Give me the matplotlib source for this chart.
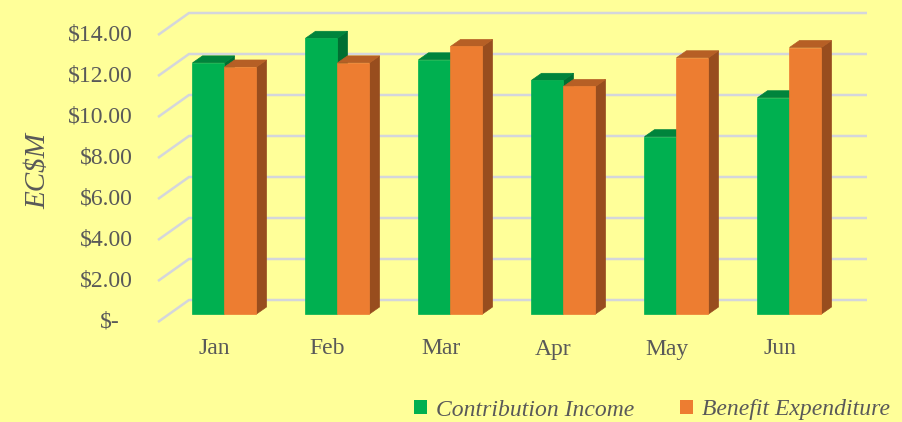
import matplotlib
matplotlib.use("Agg")
import matplotlib.pyplot as plt
from matplotlib.patches import Polygon, Patch

# Dados (EC$ milhões)
meses = ["Jan", "Feb", "Mar", "Apr", "May", "Jun"]
contribuicao = [12.25, 13.45, 12.4, 11.4, 8.65, 10.55]
beneficio = [12.05, 12.25, 13.05, 11.1, 12.5, 13.0]
yticks = [0, 2, 4, 6, 8, 10, 12, 14]
ytick_labels = [r"\$-", r"\$2.00", r"\$4.00", r"\$6.00", r"\$8.00",
                r"\$10.00", r"\$12.00", r"\$14.00"]

# Cores
fundo = "#FFFF99"
grade = "#D4D6DC"
texto = "#595959"
verde = ("#00B050", "#00843C", "#006F32")    # frente, topo, lado
laranja = ("#ED7D31", "#B65F25", "#984D1E")

W, H, DPI = 903, 422, 100
fig = plt.figure(figsize=(W / DPI, H / DPI), dpi=DPI, facecolor=fundo)

# plano frontal do gráfico em pixels
left_px, right_px, bottom_px, top_px = 158, 836, 322, 35
ax = fig.add_axes([left_px / W, 1 - bottom_px / H,
                   (right_px - left_px) / W, (bottom_px - top_px) / H])
ax.set_xlim(-0.5, 5.5)
ax.set_ylim(0, 14)
ax.axis("off")
ax.patch.set_alpha(0)

# pixels -> unidades de dados
sx = (right_px - left_px) / 6.0
sy = (bottom_px - top_px) / 14.0
def px(dx, dy):
    return dx / sx, dy / sy

wall_dx, wall_dy = px(31, 22)     # profundidade da parede do fundo
fr_dx, fr_dy = px(10, 8)          # frente das barras
dep_dx, dep_dy = px(10, 7)        # profundidade das barras
bw = 32 / sx                      # largura de cada barra

# Linhas de grade: parede lateral (diagonal) + parede do fundo
for v in yticks:
    ax.plot([-0.5, -0.5 + wall_dx, 5.5 + wall_dx], [v, v + wall_dy, v + wall_dy],
            color=grade, lw=1.8, zorder=1, clip_on=False, solid_capstyle="butt")

def barra3d(x0, h, cores):
    x0 = x0 + fr_dx
    y0 = fr_dy
    frente = Polygon([(x0, y0), (x0 + bw, y0), (x0 + bw, y0 + h), (x0, y0 + h)],
                     closed=True, fc=cores[0], ec=cores[0], lw=0.5, zorder=3)
    topo = Polygon([(x0, y0 + h), (x0 + bw, y0 + h),
                    (x0 + bw + dep_dx, y0 + h + dep_dy), (x0 + dep_dx, y0 + h + dep_dy)],
                   closed=True, fc=cores[1], ec=cores[1], lw=0.5, zorder=3)
    lado = Polygon([(x0 + bw, y0), (x0 + bw + dep_dx, y0 + dep_dy),
                    (x0 + bw + dep_dx, y0 + h + dep_dy), (x0 + bw, y0 + h)],
                   closed=True, fc=cores[2], ec=cores[2], lw=0.5, zorder=3)
    for p in (lado, topo, frente):
        p.set_clip_on(False)
        ax.add_patch(p)

for i in range(len(meses)):
    barra3d(i - bw, contribuicao[i], verde)
    barra3d(i, beneficio[i], laranja)

fonte = "Liberation Serif"

# Rótulos do eixo y
for v, lab in zip(yticks, ytick_labels):
    off = -38 if v == 0 else -25
    ax.annotate(lab, xy=(-0.5, v), xytext=(off, 0), textcoords="offset pixels",
                ha="right", va="center", fontsize=17, color=texto, family=fonte,
                annotation_clip=False)

# Rótulos do eixo x
for i, m in enumerate(meses):
    ax.annotate(m, xy=(i, 0), xytext=(0, -27), textcoords="offset pixels",
                ha="center", va="center", fontsize=17, color=texto, family=fonte,
                annotation_clip=False)

fig.text(38 / W, 1 - 171 / H, r"EC\$M", rotation=90, ha="center", va="center",
         fontsize=21, style="italic", color=texto, family=fonte)

handles = [Patch(fc=verde[0], ec="none"), Patch(fc=laranja[0], ec="none")]
fig.legend(handles, ["Contribution Income", "Benefit Expenditure"],
           loc="center right", bbox_to_anchor=(890 / W, 1 - 410 / H), ncol=2,
           frameon=False, borderpad=0, borderaxespad=0,
           handlelength=0.55, handleheight=0.55, handletextpad=0.4,
           columnspacing=1.9, prop={"family": fonte, "style": "italic", "size": 17},
           labelcolor=texto)

fig.savefig("out.png", dpi=DPI, facecolor=fundo)
